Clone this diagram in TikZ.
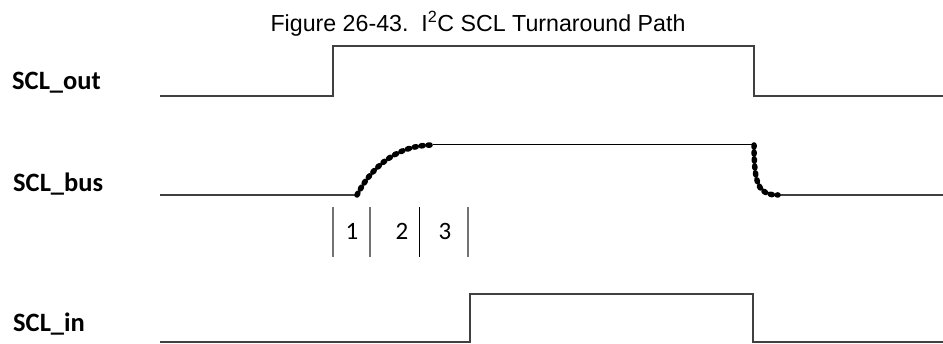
\documentclass[tikz,border=0pt]{standalone}
\usepackage{fontspec}
\setmainfont{Liberation Sans}
\newfontfamily\calib{Carlito}
\begin{document}
\begin{tikzpicture}[x=1pt,y=-1pt,
  sig/.style={draw=black!75, line width=1.3pt},
  thinsig/.style={draw=black, line width=1pt},
  dotcurve/.style={draw=black, line width=5.5pt, line cap=round, dash pattern=on 2pt off 5pt},
  lab/.style={anchor=base west, inner sep=0pt, font=\calib\bfseries\fontsize{26.5}{30}\selectfont},
  num/.style={anchor=base, inner sep=0pt, font=\calib\fontsize{25}{28}\selectfont},
  tick/.style={draw=black!55, line width=1.5pt},
  tickb/.style={draw=black, line width=1pt}]
\useasboundingbox (0,0) rectangle (943,344);
% title
\node[anchor=base, inner sep=0pt, font=\fontsize{23.2}{26}\selectfont] (title) at (478,32)
  {Figure 26-43.\ \ I\textsuperscript{2}C SCL Turnaround Path};
% labels
\node[lab] (lout) at (12,90) {SCL\_out};
\node[lab] (lbus) at (13,192) {SCL\_bus};
\node[lab] (lin) at (13,332) {SCL\_in};
% SCL_out
\coordinate (o0) at (160,96);
\coordinate (o1) at (333,96);
\coordinate (o2) at (333,46);
\coordinate (o3) at (754,46);
\coordinate (o4) at (754,96);
\coordinate (o5) at (943,96);
\draw[sig] (o0) -- (o1) -- (o2) -- (o3) -- (o4) -- (o5);
% SCL_bus
\coordinate (b0) at (160,195);
\coordinate (b1) at (357,195);
\coordinate (b2) at (433,145);
\coordinate (b3) at (754,145);
\coordinate (b4) at (778,195);
\coordinate (b5) at (943,195);
\draw[sig] (b0) -- (b1);
\draw[thinsig] (b2) -- (b3);
\draw[sig] (b4) -- (b5);
\draw[dotcurve] (b1) .. controls (372,166) and (398,145) .. (b2);
\draw[dotcurve] (b3) .. controls (754,186) and (759,195) .. (b4);
% markers
\coordinate (m1t) at (333,207); \coordinate (m1b) at (333,257);
\coordinate (m2t) at (370,207); \coordinate (m2b) at (370,257);
\coordinate (m3t) at (419,207); \coordinate (m3b) at (419,257);
\coordinate (m4t) at (468,207); \coordinate (m4b) at (468,257);
\draw[tick] (m1t) -- (m1b);
\draw[tick] (m2t) -- (m2b);
\draw[tickb] (m3t) -- (m3b);
\draw[tick] (m4t) -- (m4b);
\node[num] (n1) at (352,240) {1};
\node[num] (n2) at (402,240) {2};
\node[num] (n3) at (445,240) {3};
% SCL_in
\coordinate (i0) at (160,342);
\coordinate (i1) at (470,342);
\coordinate (i2) at (470,294);
\coordinate (i3) at (753,294);
\coordinate (i4) at (753,342);
\coordinate (i5) at (943,342);
\draw[sig] (i0) -- (i1) -- (i2) -- (i3) -- (i4) -- (i5);
\end{tikzpicture}
\end{document}
